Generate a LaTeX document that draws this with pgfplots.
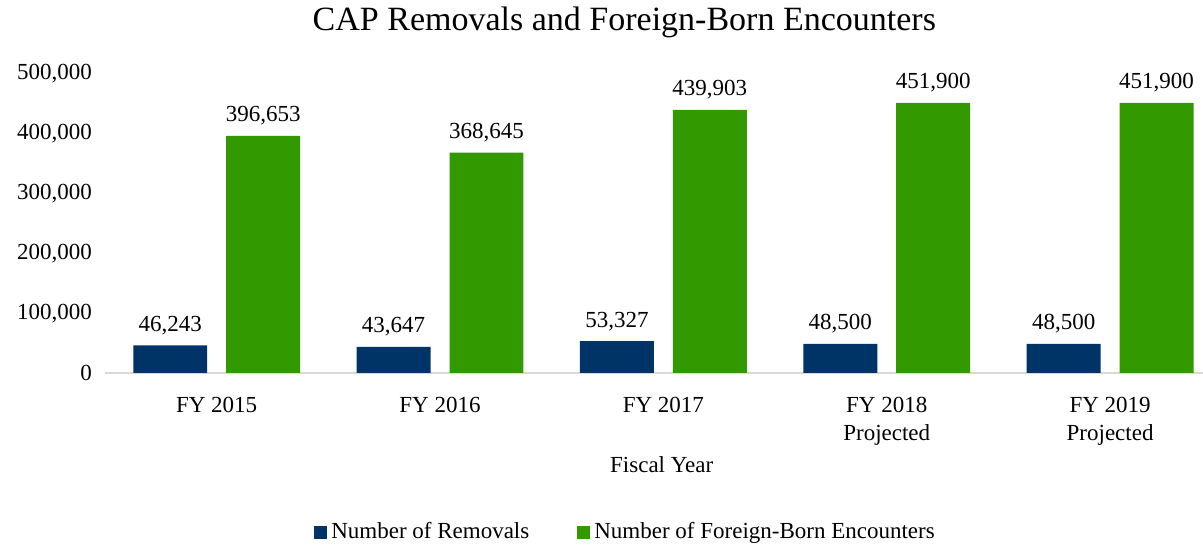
\documentclass[border=0pt]{standalone}
\usepackage{fontspec}
\setmainfont{Liberation Serif}
\usepackage{pgfplots}
\pgfplotsset{compat=1.18}
\definecolor{navy}{RGB}{0,51,102}
\definecolor{grn}{RGB}{51,153,0}
\definecolor{axgray}{RGB}{217,217,217}
\begin{document}
\begin{tikzpicture}
\begin{axis}[
  scale only axis, width=549pt, height=149.5pt,
  xmin=-0.5, xmax=4.416, ymin=0, ymax=500000,
  clip=false,
  ybar, bar width=0.331,
  axis x line*=bottom, axis y line*=left,
  x axis line style={draw=axgray, line width=0.6pt, -},
  y axis line style={draw=none},
  major tick length=0,
  ytick={0,100000,200000,300000,400000,500000},
  scaled y ticks=false,
  /pgf/number format/fixed,
  /pgf/number format/1000 sep={,},
  /pgf/number format/assume math mode=true,
  font=\fontsize{11.5}{13.5}\selectfont,
  xtick={0,1,2,3,4},
  xticklabels={FY 2015, FY 2016, FY 2017, {FY 2018\\Projected}, {FY 2019\\Projected}},
  xticklabel style={align=center, anchor=north, yshift=-8.5pt, font=\fontsize{11.5}{14}\selectfont},
  yticklabel style={anchor=east, xshift=-3pt},
  title={CAP Removals and Foreign-Born Encounters},
  every axis title/.style={at={(axis description cs:0.473,1.174)}, anchor=center, font=\fontsize{17}{20}\selectfont},
  xlabel={Fiscal Year},
  xlabel style={at={(axis description cs:0.507,-0.308)}, anchor=center},
  legend style={at={(axis description cs:0.475,-0.532)}, anchor=center, draw=none, legend columns=2,
    font=\fontsize{11.5}{13.5}\selectfont,
    /tikz/every even column/.append style={column sep=22pt}},
  legend cell align=left,
  nodes near coords,
  nodes near coords style={anchor=base, yshift=7pt, font=\fontsize{11.5}{13.5}\selectfont, text=black},
]
\addplot[bar shift=-0.208, fill=navy, draw=none,
  legend image code/.code={\fill[navy] (0pt,-3.25pt) rectangle (6.5pt,3.25pt);}]
  coordinates {(0,46243) (1,43647) (2,53327) (3,48500) (4,48500)};
\addlegendentry{Number of Removals}
\addplot[bar shift=0.208, fill=grn, draw=none,
  legend image code/.code={\fill[grn] (0pt,-3.25pt) rectangle (6.5pt,3.25pt);}]
  coordinates {(0,396653) (1,368645) (2,439903) (3,451900) (4,451900)};
\addlegendentry{Number of Foreign-Born Encounters}
\coordinate (bl) at (rel axis cs:0,0);
\coordinate (tr) at (rel axis cs:1,1);
\end{axis}
\pgfresetboundingbox
\path[use as bounding box] ([shift={(-52.5pt,-86pt)}]bl) rectangle ([shift={(0pt,37pt)}]tr);
\end{tikzpicture}
\end{document}
